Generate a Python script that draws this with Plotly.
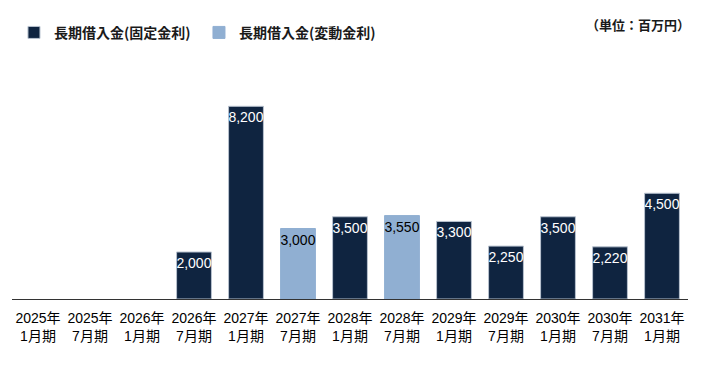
import plotly.graph_objects as go

categories = ["2025年<br>1月期", "2025年<br>7月期", "2026年<br>1月期", "2026年<br>7月期",
              "2027年<br>1月期", "2027年<br>7月期", "2028年<br>1月期", "2028年<br>7月期",
              "2029年<br>1月期", "2029年<br>7月期", "2030年<br>1月期", "2030年<br>7月期",
              "2031年<br>1月期"]
fixed_values = [None, None, None, 2000, 8200, None, 3500, None, 3300, 2250, 3500, 2220, 4500]
variable_values = [None, None, None, None, None, 3000, None, 3550, None, None, None, None, None]

FONT = "Liberation Sans, Arial, Noto Sans CJK JP"

def fmt(v):
    return [f"{x:,}" if x is not None else "" for x in v]

fig = go.Figure()
fig.add_trace(go.Bar(
    x=categories, y=fixed_values, name="長期借入金(固定金利)",
    marker=dict(color="#0f2440", line=dict(color="#b8c2cf", width=1)),
    text=fmt(fixed_values), textposition="inside", insidetextanchor="end", textangle=0,
    textfont=dict(color="white", size=14, family=FONT), constraintext="none",
))
fig.add_trace(go.Bar(
    x=categories, y=variable_values, name="長期借入金(変動金利)",
    marker=dict(color="#90afd2", line=dict(color="#90afd2", width=1)),
    text=fmt(variable_values), textposition="inside", insidetextanchor="end", textangle=0,
    textfont=dict(color="black", size=14, family=FONT), constraintext="none",
))

fig.update_layout(
    width=703, height=368,
    margin=dict(l=4, r=23, t=52, b=77),
    barmode="overlay", bargap=0.33,
    plot_bgcolor="white", paper_bgcolor="white",
    font=dict(family=FONT, color="#111111"),
    showlegend=True,
    legend=dict(orientation="h", xref="container", yref="container", x=0.0085, y=0.976,
                xanchor="left", yanchor="top",
                font=dict(family="Noto Sans CJK JP", size=14, color="#1a1a1a", weight="bold"),
                itemwidth=30, entrywidth=140, entrywidthmode="pixels", traceorder="normal"),
    xaxis=dict(showline=True, linecolor="#333333", linewidth=1, ticks="",
               ticklabelstandoff=6,
               tickfont=dict(size=14, family=FONT, color="#000000"), fixedrange=True),
    yaxis=dict(visible=False, range=[0, 10170], fixedrange=True),
    annotations=[dict(text="（単位：百万円）", xref="paper", yref="paper", x=1.0, y=1.197,
                      xanchor="right", yanchor="top", showarrow=False, xshift=4,
                      font=dict(family="Noto Sans CJK JP", size=13, color="#1a1a1a", weight="bold"))],
)

fig.write_html("out.html")
